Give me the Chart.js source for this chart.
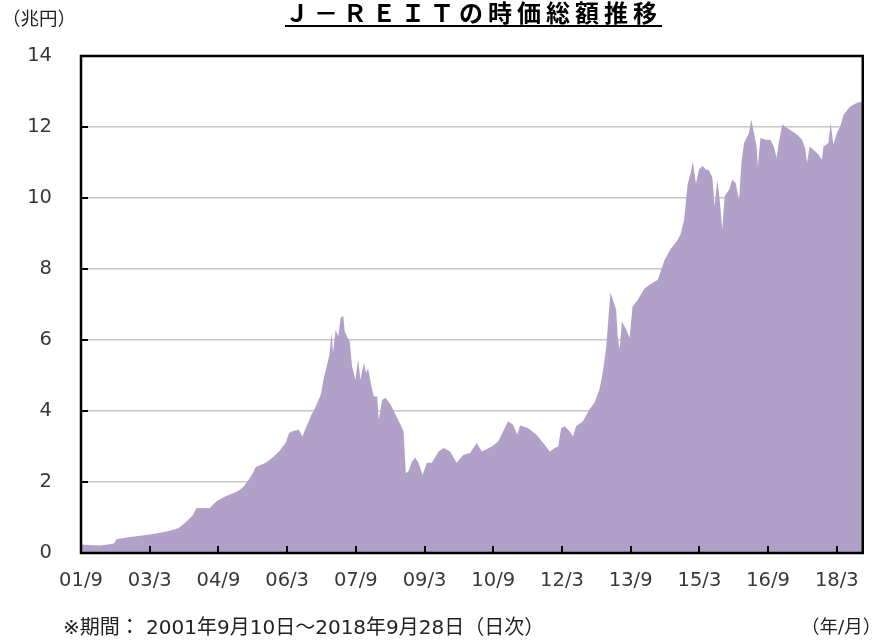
<!DOCTYPE html>
<html><head><meta charset="utf-8">
<script src="https://cdn.jsdelivr.net/npm/chart.js@4.4.1/dist/chart.umd.min.js"></script>
<style>
html,body{margin:0;padding:0;background:#fff;}
#wrap{position:relative;width:875px;height:643px;overflow:hidden;background:#fff;}
#c{position:absolute;left:0;top:0;}
.t{position:absolute;white-space:nowrap;color:#222;font-family:"DejaVu Sans","Noto Sans CJK JP",sans-serif;}
#title{left:285px;top:-1px;font-family:"Noto Sans CJK JP",sans-serif;font-weight:bold;font-size:24px;line-height:26px;letter-spacing:5px;color:#000;text-decoration:underline;text-decoration-thickness:2px;text-underline-offset:3px;}
#unit{left:2px;top:7px;font-size:18.5px;line-height:24px;}
#note{left:63px;top:615px;font-size:20px;line-height:24px;}
#xunit{left:801px;top:615px;font-size:18.5px;line-height:24px;}
</style></head>
<body><div id="wrap">
<canvas id="c" width="875" height="643"></canvas>
<div class="t" id="title">Ｊ－ＲＥＩＴの時価総額推移</div>
<div class="t" id="unit">（兆円）</div>
<div class="t" id="note">※期間： 2001年9月10日～2018年9月28日（日次）</div>
<div class="t" id="xunit">（年/月）</div>
</div>
<script>
// months elapsed since 2001/9/10
const months = [0,3,5,7,8.6,9.3,12,15,18,21,23,25.5,27.5,29.3,30.2,32,33.7,35.4,37.5,38.9,41,42.3,43.7,45,45.8,47,48.4,50.1,51.9,53.7,54.5,55.4,57.1,58,58.9,60.2,61.5,62.8,63.7,65,65.7,66,66.7,67.4,68,68.7,69.1,69.7,70.4,71,71.9,72.6,73.2,74.1,74.7,75.2,76.1,76.7,77.6,78,78.9,79.8,81.1,82.4,83.7,84.5,85.1,85.8,86.7,87.6,88.4,89.5,90.6,91.9,93.7,95,96.7,98.4,100.2,101.9,103.7,105,107.6,109.3,110.6,111.9,113.2,114.3,115,117.1,119.3,121.1,122.8,124.1,125,125.8,126.7,128,128.9,129.7,131.5,133.2,134.5,135.8,136.7,137.6,138.2,138.7,139.3,140.2,140.6,141.1,141.7,142.8,143.7,144.5,145.8,147.6,149.3,151.1,152.8,154.5,156.3,157.1,158,158.9,159.7,160.3,161.1,161.9,162.8,163.7,164.5,165.4,166,166.7,167.4,168,168.6,169.8,170.6,171.5,172.4,173,173.7,175,175.6,176.3,177,177.3,178,179.3,180.6,181.5,182.2,182.8,183.7,185,186.3,187.6,188.9,189.7,190.2,190.9,191.9,193.2,194.1,194.5,195.8,196.4,197.1,198,198.9,199.8,201.5,203.3,204.8];
// J-REIT market capitalisation (trillion yen)
const marketCap = [0.24,0.22,0.21,0.24,0.27,0.39,0.44,0.48,0.52,0.58,0.62,0.70,0.87,1.06,1.26,1.27,1.26,1.45,1.58,1.64,1.74,1.84,2.02,2.25,2.42,2.48,2.54,2.68,2.86,3.12,3.38,3.43,3.47,3.28,3.52,3.85,4.13,4.46,4.97,5.54,6.20,5.63,6.29,6.10,6.62,6.68,6.24,6.10,5.96,5.26,4.88,5.45,4.88,5.35,5.07,5.21,4.69,4.41,4.41,3.75,4.32,4.37,4.18,3.90,3.61,3.43,2.25,2.30,2.58,2.68,2.54,2.21,2.54,2.54,2.86,2.96,2.86,2.54,2.77,2.82,3.10,2.86,3.00,3.14,3.43,3.71,3.61,3.33,3.59,3.52,3.33,3.10,2.86,2.96,3.00,3.52,3.57,3.43,3.28,3.57,3.71,4.04,4.23,4.60,5.10,5.80,6.66,7.34,7.14,6.85,6.10,5.73,6.52,6.30,6.06,6.95,7.12,7.45,7.58,7.70,8.23,8.57,8.82,8.99,9.39,10.37,10.70,11.03,10.40,10.80,10.90,10.80,10.78,10.58,9.76,10.52,9.86,9.11,10.05,10.23,10.52,10.42,9.95,10.99,11.55,11.83,12.21,11.83,11.45,10.89,11.69,11.64,11.64,11.45,11.13,11.55,12.07,11.97,11.88,11.78,11.64,11.41,10.99,11.45,11.36,11.22,11.08,11.45,11.55,12.11,11.50,11.83,12.02,12.35,12.58,12.68,12.72];
const tickMonths = [0,18,36,54,72,90,108,126,144,162,180,198];
const tickLabels = ['01/9','03/3','04/9','06/3','07/9','09/3','10/9','12/3','13/9','15/3','16/9','18/3'];
const yTicks = [0,2,4,6,8,10,12,14];

const FONT = {family:'"DejaVu Sans","Noto Sans CJK JP",sans-serif', size:19.5};

const framePlugin = {
  id:'frame',
  afterDraw(chart){
    const {ctx, chartArea:a, scales:{x,y}} = chart;
    ctx.save();
    ctx.strokeStyle = '#000';
    ctx.lineWidth = 2;
    ctx.beginPath();
    tickMonths.forEach(v=>{ const px = Math.round(x.getPixelForValue(v)); ctx.moveTo(px, a.bottom); ctx.lineTo(px, a.bottom-7); });
    yTicks.forEach(v=>{ const py = Math.round(y.getPixelForValue(v)); ctx.moveTo(a.left, py); ctx.lineTo(a.left+7, py); });
    ctx.stroke();
    ctx.lineWidth = 2.5;
    ctx.strokeRect(a.left, a.top, a.right-a.left, a.bottom-a.top);
    ctx.restore();
  }
};

new Chart(document.getElementById('c'), {
  type:'line',
  data:{ datasets:[{
    data: months.map((m,i)=>({x:m, y:marketCap[i]})),
    fill:'origin',
    backgroundColor:'rgb(177,161,200)',
    borderWidth:0,
    borderColor:'rgba(0,0,0,0)',
    pointRadius:0,
    tension:0
  }]},
  options:{
    responsive:false, animation:false, devicePixelRatio:1,
    layout:{padding:{top:56,right:9,left:0,bottom:0}},
    plugins:{legend:{display:false}, tooltip:{enabled:false}, title:{display:false}},
    scales:{
      x:{
        type:'linear', min:0, max:204.8,
        afterBuildTicks(s){ s.ticks = tickMonths.map(v=>({value:v})); },
        afterFit(s){ s.height = 90; },
        grid:{display:false, drawTicks:false},
        border:{display:false},
        ticks:{ color:'#383838', font:FONT, padding:16, maxRotation:0, autoSkip:false,
          callback:(v)=>{ const i = tickMonths.indexOf(v); return i>=0 ? tickLabels[i] : ''; } }
      },
      y:{
        min:0, max:14,
        afterBuildTicks(s){ s.ticks = yTicks.map(v=>({value:v})); },
        afterFit(s){ s.width = 81; },
        grid:{color:(c)=> (c.tick && (c.tick.value===0||c.tick.value===14)) ? 'rgba(0,0,0,0)' : '#c6c6c6', lineWidth:1.5, drawTicks:false},
        border:{display:false},
        ticks:{ color:'#383838', font:FONT, padding:29 }
      }
    }
  },
  plugins:[framePlugin]
});
</script>
</body></html>
